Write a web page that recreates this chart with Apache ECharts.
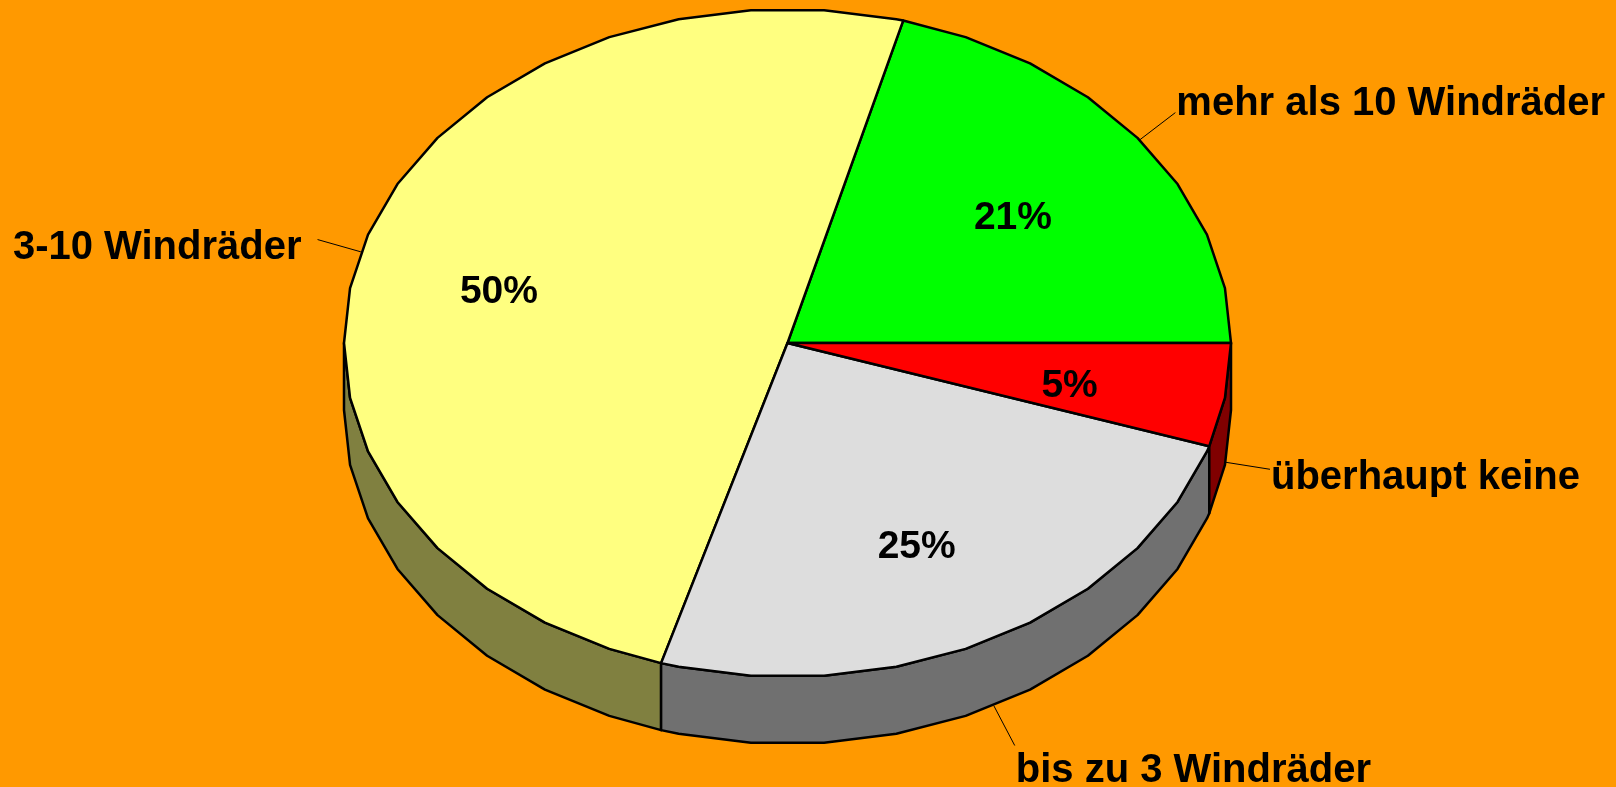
<!DOCTYPE html>
<html>
<head>
<meta charset="utf-8">
<title>Windräder</title>
<script src="https://cdn.jsdelivr.net/npm/echarts@6/dist/echarts.min.js"></script>
<style>
    html, body { margin: 0; padding: 0; background: #ff9900; }
    #main { width: 1616px; height: 787px; }
</style>
</head>
<body>
<div id="main"></div>
<script>
// data
var names = ['mehr als 10 Windräder', '3-10 Windräder', 'bis zu 3 Windräder', 'überhaupt keine'];
var values = [20.8, 49.6, 24.6, 5.0];
var topColors = ['#00ff00', '#ffff80', '#dddddd', '#ff0000'];
var sideColors = ['#008000', '#808040', '#707070', '#800000'];

// layout of the tilted pie
var cx = 787.5, cy = 343, rx = 443.5, ry = 334, depth = 67;
var step = 360 / 38;
var labelFont = 'bold 40px "Liberation Sans", Arial, sans-serif';
var pctFont = 'bold 39px "Liberation Sans", Arial, sans-serif';

var total = 0;
for (var i = 0; i < values.length; i++) total += values[i];

function pt(deg, dy) {
    var r = deg * Math.PI / 180;
    return [cx + rx * Math.cos(r), cy - ry * Math.sin(r) + (dy || 0)];
}

// polygon angles along the rim, slice edges put in between
function arcAngles(a0, a1) {
    var list = [a0];
    var k = Math.floor(a0 / step + 1e-6) + 1;
    while (k * step < a1 - 1e-6) {
        list.push(k * step);
        k++;
    }
    list.push(a1);
    return list;
}

function txt(x, y, text, font, align, vAlign) {
    return {
        type: 'text',
        x: x,
        y: y,
        style: {
            text: text, font: font, fill: '#000',
            align: align, textAlign: align,
            verticalAlign: vAlign, textVerticalAlign: vAlign
        }
    };
}

function renderSlice(params, api) {
    var idx = params.dataIndex;
    var start = 0;
    for (var j = 0; j < idx; j++) start += values[j] / total * 360;
    var end = start + api.value(0) / total * 360;
    var children = [];
    var edge = { stroke: '#000', lineWidth: 2.5, lineJoin: 'round' };

    // front wall (only the part between 180 and 360 degrees is seen)
    var s0 = Math.max(start, 180), s1 = Math.min(end, 360);
    if (s1 > s0) {
        var angs = arcAngles(s0, s1);
        var upper = angs.map(function (a) { return pt(a, 0); });
        var lower = angs.slice().reverse().map(function (a) { return pt(a, depth); });
        children.push({
            type: 'polygon',
            shape: { points: upper.concat(lower) },
            style: echarts.util.extend({ fill: sideColors[idx] }, edge)
        });
    }

    // top face
    var topPts = [[cx, cy]].concat(arcAngles(start, end).map(function (a) { return pt(a, 0); }));
    children.push({
        type: 'polygon',
        shape: { points: topPts },
        style: echarts.util.extend({ fill: topColors[idx] }, edge)
    });

    var mid = (start + end) / 2;
    var rad = mid * Math.PI / 180;
    var cos = Math.cos(rad), sin = Math.sin(rad);

    // percent inside
    var pct = Math.round(api.value(0) / total * 100) + '%';
    children.push(txt(cx + 0.66 * rx * cos - 7, cy - 0.66 * ry * sin + 9, pct, pctFont, 'center', 'middle'));

    // leader line + name
    var p0 = pt(mid, sin < 0 ? depth : 0);
    var p1 = [p0[0] + 45 * cos, p0[1] - 45 * sin];
    children.push({
        type: 'line',
        shape: { x1: p0[0], y1: p0[1], x2: p1[0], y2: p1[1] },
        style: { stroke: '#000', lineWidth: 1 }
    });
    var right = cos >= 0;
    var dy = 5 - 23 * sin + (right ? 0 : 10);
    children.push(txt(right ? p1[0] + 1 : p1[0] - 16, p1[1] + dy, names[idx], labelFont,
        right ? 'left' : 'right', 'middle'));

    return { type: 'group', children: children };
}

var chart = echarts.init(document.getElementById('main'));
chart.setOption({
    backgroundColor: '#ff9900',
    animation: false,
    series: [{
        type: 'custom',
        coordinateSystem: 'none',
        renderItem: renderSlice,
        data: values
    }]
});
</script>
</body>
</html>
